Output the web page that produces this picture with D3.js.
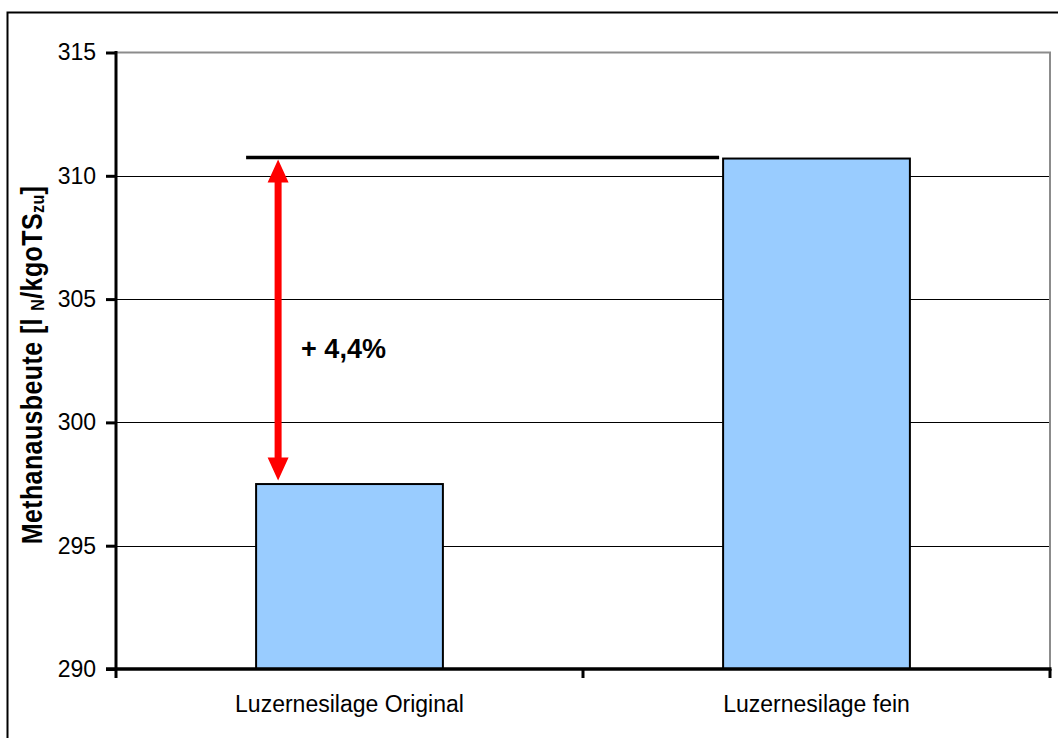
<!DOCTYPE html>
<html>
<head>
<meta charset="utf-8">
<script src="https://cdn.jsdelivr.net/npm/d3@7/dist/d3.min.js"></script>
<style>
  html, body { margin: 0; padding: 0; background: #ffffff; }
  svg { display: block; font-family: "Liberation Sans", Arial, sans-serif; }
</style>
</head>
<body>
<svg id="chart" width="1058" height="738"></svg>
<script>
// ---- data ----
const categories = ["Luzernesilage Original", "Luzernesilage fein"];
const values = [297.5, 310.7];
const yTicks = [290, 295, 300, 305, 310, 315];
const yDomain = [290, 315];
const annotationText = "+ 4,4%";
const yLabelParts = [
  { t: "Methanausbeute [l ", sub: false },
  { t: "N", sub: true },
  { t: "/kgoTS", sub: false },
  { t: "zu", sub: true },
  { t: "]", sub: false }
];

// ---- layout ----
const W = 1058, H = 738;
const plot = { left: 116, right: 1050, top: 52.5, bottom: 669 };
const svg = d3.select("#chart");

svg.append("rect").attr("x", 0).attr("y", 0).attr("width", W).attr("height", H).attr("fill", "#fff");
// outer chart border (extends past canvas on right/bottom)
svg.append("rect").attr("x", 7.5).attr("y", 12.5).attr("width", 1200).attr("height", 900)
  .attr("fill", "none").attr("stroke", "#000").attr("stroke-width", 2);

const x = d3.scaleBand().domain(categories).range([plot.left, plot.right]).paddingInner(0).paddingOuter(0);
const y = d3.scaleLinear().domain(yDomain).range([plot.bottom, plot.top]);
const barW = x.bandwidth() * 0.4;
const barX = c => x(c) + (x.bandwidth() - barW) / 2;

// gridlines
svg.append("g").selectAll("line").data(yTicks.filter(t => t > yDomain[0] && t < yDomain[1]))
  .join("line")
  .attr("x1", plot.left).attr("x2", plot.right)
  .attr("y1", d => Math.round(y(d)) + 0.5).attr("y2", d => Math.round(y(d)) + 0.5)
  .attr("stroke", "#000").attr("stroke-width", 1);

// plot area border (gray top & right)
svg.append("path")
  .attr("d", `M${plot.left},${y(yDomain[1])}H${plot.right}V${plot.bottom}`)
  .attr("fill", "none").attr("stroke", "#8c8c8c").attr("stroke-width", 2);

// bars
svg.append("g").selectAll("rect").data(categories.map((c, i) => ({ c, v: values[i] })))
  .join("rect")
  .attr("x", d => barX(d.c))
  .attr("y", d => y(d.v))
  .attr("width", barW)
  .attr("height", d => y(yDomain[0]) - y(d.v))
  .attr("fill", "#99CCFF")
  .attr("stroke", "#000").attr("stroke-width", 2);

// y axis
const yAxis = d3.axisLeft(y).tickValues(yTicks).tickSize(10).tickPadding(10).tickFormat(d3.format("d"));
const gy = svg.append("g").attr("transform", `translate(${plot.left},0)`).call(yAxis);
gy.select(".domain").remove();
gy.selectAll(".tick line").attr("stroke", "#000").attr("stroke-width", 3);
gy.selectAll(".tick text").attr("font-size", 23).attr("fill", "#000")
  .attr("font-family", "'Liberation Sans', Arial, sans-serif");
svg.append("line").attr("x1", plot.left).attr("x2", plot.left)
  .attr("y1", plot.top - 1.5).attr("y2", plot.bottom + 9)
  .attr("stroke", "#000").attr("stroke-width", 3);

// x axis
svg.append("line").attr("x1", plot.left - 10).attr("x2", plot.right + 1.5)
  .attr("y1", plot.bottom).attr("y2", plot.bottom)
  .attr("stroke", "#000").attr("stroke-width", 3.5);
const boundaries = categories.map(c => x(c)).concat([x(categories[categories.length - 1]) + x.bandwidth()]);
svg.append("g").selectAll("line").data(boundaries.slice(1))
  .join("line")
  .attr("x1", d => d).attr("x2", d => d)
  .attr("y1", plot.bottom).attr("y2", plot.bottom + 9)
  .attr("stroke", "#000").attr("stroke-width", 3);
svg.append("g").selectAll("text").data(categories)
  .join("text")
  .attr("x", d => x(d) + x.bandwidth() / 2)
  .attr("y", plot.bottom + 43)
  .attr("text-anchor", "middle")
  .attr("font-size", 23)
  .attr("fill", "#000")
  .text(d => d);

// y label
const yl = svg.append("text")
  .attr("transform", `translate(41.5,365) rotate(-90) scale(1,1.15)`)
  .attr("text-anchor", "middle")
  .attr("font-size", 25)
  .attr("font-weight", "bold")
  .attr("letter-spacing", 0.4)
  .attr("fill", "#000");
let prevSub = false;
yLabelParts.forEach(p => {
  const ts = yl.append("tspan").text(p.t);
  if (p.sub) ts.attr("font-size", 16);
  if (p.sub !== prevSub) ts.attr("dy", p.sub ? 2 : -2);
  prevSub = p.sub;
});

// annotation: reference line and double arrow
const x0 = barX(categories[0]);
const x1 = barX(categories[1]);
const yTop = y(values[1]);
const yBot = y(values[0]);
svg.append("line")
  .attr("x1", x0 - 10).attr("x2", x1 - 4)
  .attr("y1", yTop - 1).attr("y2", yTop - 1)
  .attr("stroke", "#000").attr("stroke-width", 3.5);

const ax = x0 + 22;
const shaft = 3.5, head = 10.5, headL = 23;
const aTop = yTop + 1, aBot = yBot - 3.5;
const arrowPath = [
  [ax, aTop], [ax + head, aTop + headL], [ax + shaft, aTop + headL],
  [ax + shaft, aBot - headL], [ax + head, aBot - headL], [ax, aBot],
  [ax - head, aBot - headL], [ax - shaft, aBot - headL],
  [ax - shaft, aTop + headL], [ax - head, aTop + headL]
];
svg.append("path").attr("d", d3.line()(arrowPath) + "Z").attr("fill", "#FF0000");

svg.append("text")
  .attr("x", ax + 23)
  .attr("y", (aTop + aBot) / 2 + 38)
  .attr("font-size", 27)
  .attr("font-weight", "bold")
  .attr("fill", "#000")
  .text(annotationText);
</script>
</body>
</html>
